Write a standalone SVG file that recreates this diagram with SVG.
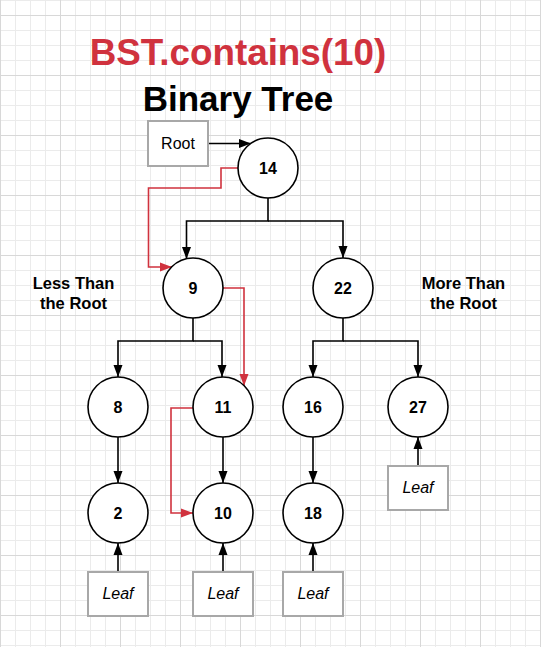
<svg xmlns="http://www.w3.org/2000/svg" width="541" height="647" viewBox="0 0 541 647">
<defs>
<pattern id="grid" x="0" y="15" width="60" height="60" patternUnits="userSpaceOnUse">
<path d="M15.5,0 V60 M30.5,0 V60 M45.5,0 V60 M0,15.5 H60 M0,30.5 H60 M0,45.5 H60" stroke="#ebebeb" stroke-width="1" fill="none"/>
<path d="M0.5,0 V60 M0,0.5 H60" stroke="#d8d8d8" stroke-width="1" fill="none"/>
</pattern>
<marker id="ab" markerUnits="userSpaceOnUse" markerWidth="12" markerHeight="12" viewBox="0 0 12 12" refX="12" refY="6" orient="auto">
<path d="M0,1.5 L12,6 L0,10.5 Z" fill="#000"/>
</marker>
<marker id="ar" markerUnits="userSpaceOnUse" markerWidth="12" markerHeight="12" viewBox="0 0 12 12" refX="12" refY="6" orient="auto">
<path d="M0,1.5 L12,6 L0,10.5 Z" fill="#d0323e"/>
</marker>
</defs>
<style>
.node circle{fill:#fff;stroke:#000;stroke-width:1.6}
.node text{font-family:"Liberation Sans",Arial,sans-serif;font-weight:bold;font-size:16px;text-anchor:middle;fill:#000}
.box rect{fill:#fff;stroke:#a8a8a8;stroke-width:2}
.box text{font-family:"Liberation Sans",Arial,sans-serif;font-size:16px;text-anchor:middle;fill:#000}
.leaf text{font-style:italic}
.lbl{font-family:"Liberation Sans",Arial,sans-serif;font-weight:bold;font-size:16.5px;text-anchor:middle;fill:#000}
.c{fill:none;stroke:#000;stroke-width:1.6}
.r{fill:none;stroke:#d0323e;stroke-width:1.6}
</style>
<rect width="541" height="647" fill="#fff"/>
<rect width="541" height="647" fill="url(#grid)"/>

<g id="titles">
<text x="238" y="65" font-family="'Liberation Sans',Arial,sans-serif" font-weight="bold" font-size="36.8" text-anchor="middle" fill="#d0323e">BST.contains(10)</text>
<text x="238" y="111" font-family="'Liberation Sans',Arial,sans-serif" font-weight="bold" font-size="35" text-anchor="middle" fill="#000">Binary Tree</text>
</g>
<g id="label-less">
<text class="lbl" x="73.5" y="289">Less Than</text>
<text class="lbl" x="73.5" y="309">the Root</text>
</g>
<g id="label-more">
<text class="lbl" x="463.5" y="289">More Than</text>
<text class="lbl" x="463.5" y="309">the Root</text>
</g>

<g id="connectors">
<path class="c" d="M208,143.5 H251" marker-end="url(#ab)"/>
<path class="c" d="M268,198 V221 H186.5 V259" marker-end="url(#ab)"/>
<path class="c" d="M268,221 H343 V258" marker-end="url(#ab)"/>
<path class="c" d="M193,318 V341 H118 V377" marker-end="url(#ab)"/>
<path class="c" d="M193,341 H222 V377" marker-end="url(#ab)"/>
<path class="c" d="M343,318 V341 H313 V377" marker-end="url(#ab)"/>
<path class="c" d="M343,341 H418 V377" marker-end="url(#ab)"/>
<path class="c" d="M118,437 V483" marker-end="url(#ab)"/>
<path class="c" d="M223,437 V483" marker-end="url(#ab)"/>
<path class="c" d="M313,437 V483" marker-end="url(#ab)"/>
<path class="c" d="M118,572 V543" marker-end="url(#ab)"/>
<path class="c" d="M223,572 V543" marker-end="url(#ab)"/>
<path class="c" d="M313,572 V543" marker-end="url(#ab)"/>
<path class="c" d="M418,466 V437" marker-end="url(#ab)"/>
<path class="r" d="M238,168 H221 V188 H148.5 V267 H172" marker-end="url(#ar)"/>
<path class="r" d="M223,288 H244 V386" marker-end="url(#ar)"/>
<path class="r" d="M193,408 H171 V513 H193" marker-end="url(#ar)"/>
</g>

<g id="root" class="box"><rect x="148" y="121" width="60" height="45"/><text x="178" y="149">Root</text></g>
<g id="n14" class="node"><circle cx="268" cy="168" r="30"/><text x="268" y="174">14</text></g>
<g id="n9" class="node"><circle cx="193" cy="288" r="30"/><text x="193" y="294">9</text></g>
<g id="n22" class="node"><circle cx="343" cy="288" r="30"/><text x="343" y="294">22</text></g>
<g id="n8" class="node"><circle cx="118" cy="407" r="30"/><text x="118" y="413">8</text></g>
<g id="n11" class="node"><circle cx="223" cy="407" r="30"/><text x="223" y="413">11</text></g>
<g id="n16" class="node"><circle cx="313" cy="407" r="30"/><text x="313" y="413">16</text></g>
<g id="n27" class="node"><circle cx="418" cy="407" r="30"/><text x="418" y="413">27</text></g>
<g id="n2" class="node"><circle cx="118" cy="513" r="30"/><text x="118" y="519">2</text></g>
<g id="n10" class="node"><circle cx="223" cy="513" r="30"/><text x="223" y="519">10</text></g>
<g id="n18" class="node"><circle cx="313" cy="513" r="30"/><text x="313" y="519">18</text></g>
<g id="leaf1" class="box leaf"><rect x="88" y="572" width="60" height="44"/><text x="118" y="599">Leaf</text></g>
<g id="leaf2" class="box leaf"><rect x="193" y="572" width="60" height="44"/><text x="223" y="599">Leaf</text></g>
<g id="leaf3" class="box leaf"><rect x="283" y="572" width="60" height="44"/><text x="313" y="599">Leaf</text></g>
<g id="leaf4" class="box leaf"><rect x="388" y="466" width="60" height="44"/><text x="418" y="493">Leaf</text></g>
</svg>
